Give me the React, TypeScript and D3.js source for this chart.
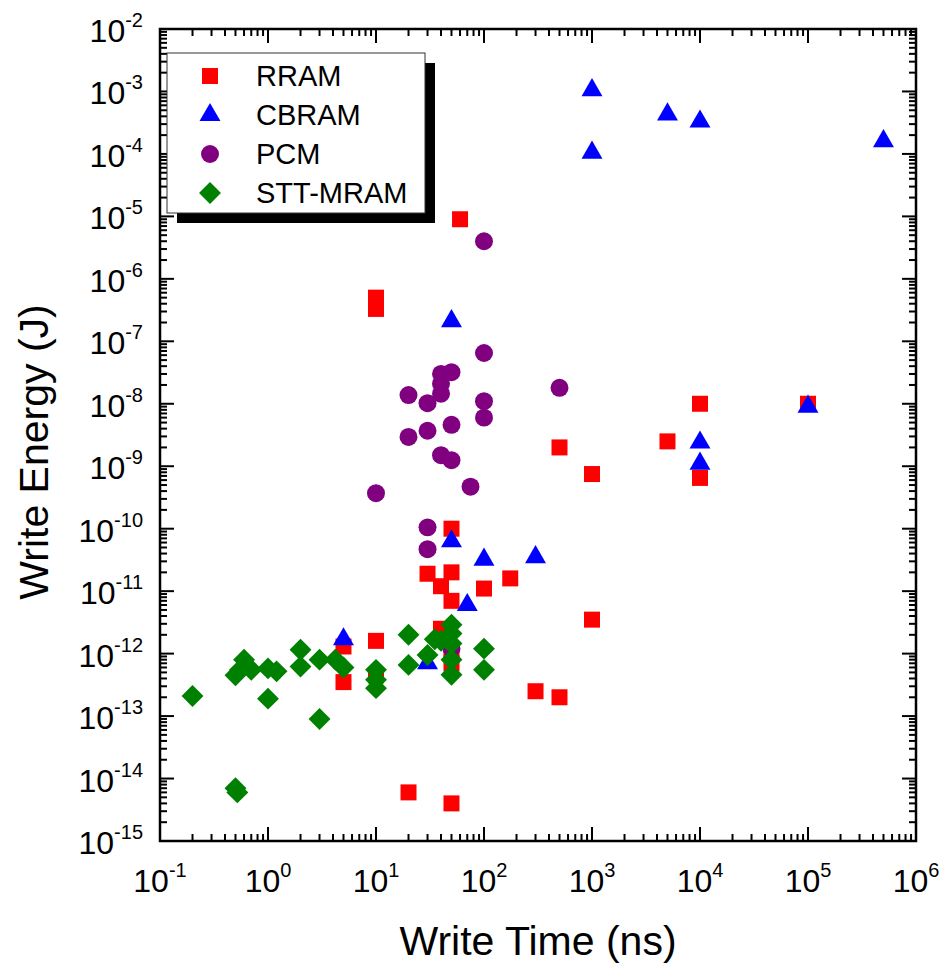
import React, { useEffect, useRef } from 'react';
import * as d3 from 'd3';

// series data: write time (ns) and write energy (J)
const rramTime = [60, 10, 10, 50, 30, 50, 40, 50, 100, 175, 500, 1000, 5000, 1e4, 1e4, 1e5, 1000, 300, 500, 5, 5, 10, 10, 40, 50, 50, 20, 50];
const rramEnergy = [9e-6, 5e-7, 3.3e-7, 1e-10, 1.9e-11, 2e-11, 1.2e-11, 7e-12, 1.1e-11, 1.6e-11, 2e-9, 7.5e-10, 2.5e-9, 1e-8, 6.5e-10, 1e-8, 3.5e-12, 2.5e-13, 2e-13, 1.3e-12, 3.5e-13, 1.6e-12, 4.5e-13, 2.5e-12, 1e-12, 7e-13, 6e-15, 4e-15];

const cbramTime = [1000, 1000, 5000, 1e4, 5e5, 1e5, 1e4, 1e4, 300, 100, 70, 50, 50, 5, 30];
const cbramEnergy = [1.05e-3, 1.05e-4, 4.3e-4, 3.3e-4, 1.6e-4, 9e-9, 2.4e-9, 1.1e-9, 3.5e-11, 3.2e-11, 6e-12, 6.3e-11, 2.1e-7, 1.7e-12, 7e-13];

const pcmTime = [100, 100, 50, 40, 40, 40, 30, 20, 100, 100, 50, 30, 20, 40, 50, 75, 10, 500, 30, 30, 50];
const pcmEnergy = [4e-6, 6.5e-8, 3.2e-8, 3e-8, 2.1e-8, 1.45e-8, 1.02e-8, 1.38e-8, 1.1e-8, 6e-9, 4.6e-9, 3.7e-9, 2.95e-9, 1.5e-9, 1.25e-9, 4.7e-10, 3.7e-10, 1.8e-8, 1.05e-10, 4.7e-11, 1.2e-12];

const sttTime = [0.2, 0.5, 0.55, 0.6, 0.7, 1, 1.2, 1, 2, 2, 3, 3, 4.2, 5, 10, 10, 10, 20, 20, 30, 35, 40, 50, 50, 50, 50, 50, 100, 100, 0.5, 0.52];
const sttEnergy = [2.1e-13, 4.5e-13, 5.5e-13, 8e-13, 5.5e-13, 5.8e-13, 5.2e-13, 1.9e-13, 1.15e-12, 6.2e-13, 8e-13, 9e-14, 8e-13, 6e-13, 5.5e-13, 3.8e-13, 2.8e-13, 2e-12, 6.6e-13, 9.5e-13, 1.7e-12, 1.6e-12, 2.9e-12, 2.1e-12, 1.45e-12, 8e-13, 4.6e-13, 1.2e-12, 5.5e-13, 7e-15, 6e-15];

const seriesNames = ['RRAM', 'CBRAM', 'PCM', 'STT-MRAM'];
const seriesColors = ['#ff0000', '#0000ff', '#800080', '#008000'];

const xDecades = [-1, 0, 1, 2, 3, 4, 5, 6];
const yDecades = [-15, -14, -13, -12, -11, -10, -9, -8, -7, -6, -5, -4, -3, -2];

const App = () => {
  const ref = useRef<SVGSVGElement>(null);

  useEffect(() => {
    const svg = d3.select(ref.current);
    svg.selectAll('*').remove();

    const left = 160, right = 916, top = 29, bottom = 841;
    const font = 'Liberation Sans, Arial, sans-serif';

    const x = d3.scaleLog().domain([1e-1, 1e6]).range([left, right]);
    const y = d3.scaleLog().domain([1e-15, 1e-2]).range([bottom, top]);

    const g = svg.append('g');

    // minor + major ticks, all four sides, pointing inward
    const xTicks: number[] = [];
    xDecades.forEach(d => {
      for (let k = 1; k <= 9; k++) {
        if (d === 6 && k > 1) break;
        xTicks.push(k * Math.pow(10, d));
      }
    });
    const yTicks: number[] = [];
    yDecades.forEach(d => {
      for (let k = 1; k <= 9; k++) {
        if (d === -2 && k > 1) break;
        yTicks.push(k * Math.pow(10, d));
      }
    });
    const isMajor = (v: number) => Math.abs(Math.log10(v) - Math.round(Math.log10(v))) < 1e-9;

    xTicks.forEach(v => {
      const len = isMajor(v) ? 14 : 7;
      const px = x(v);
      g.append('line').attr('x1', px).attr('x2', px).attr('y1', bottom).attr('y2', bottom - len)
        .attr('stroke', '#000').attr('stroke-width', 2);
      g.append('line').attr('x1', px).attr('x2', px).attr('y1', top).attr('y2', top + len)
        .attr('stroke', '#000').attr('stroke-width', 2);
    });
    yTicks.forEach(v => {
      const len = isMajor(v) ? 14 : 7;
      const py = y(v);
      g.append('line').attr('x1', left).attr('x2', left + len).attr('y1', py).attr('y2', py)
        .attr('stroke', '#000').attr('stroke-width', 2);
      g.append('line').attr('x1', right).attr('x2', right - len).attr('y1', py).attr('y2', py)
        .attr('stroke', '#000').attr('stroke-width', 2);
    });

    // frame
    g.append('rect').attr('x', left).attr('y', top).attr('width', right - left).attr('height', bottom - top)
      .attr('fill', 'none').attr('stroke', '#000').attr('stroke-width', 2.5);

    // tick labels
    xDecades.forEach(d => {
      const t = g.append('text').attr('x', x(Math.pow(10, d))).attr('y', bottom + 51)
        .attr('text-anchor', 'middle').attr('font-family', font).attr('font-size', 32);
      t.append('tspan').text('10');
      t.append('tspan').attr('font-size', 20).attr('dy', -15).text(String(d));
    });
    yDecades.forEach(d => {
      const t = g.append('text').attr('x', 143).attr('y', y(Math.pow(10, d)) + 13)
        .attr('text-anchor', 'end').attr('font-family', font).attr('font-size', 32);
      t.append('tspan').text('10');
      t.append('tspan').attr('font-size', 20).attr('dy', -15).text(String(d));
    });

    // axis titles
    g.append('text').attr('x', (left + right) / 2).attr('y', 955).attr('text-anchor', 'middle')
      .attr('font-family', font).attr('font-size', 41).text('Write Time (ns)');
    g.append('text').attr('transform', `translate(48, 452) rotate(-90)`)
      .attr('text-anchor', 'middle').attr('font-family', font).attr('font-size', 41).text('Write Energy (J)');

    // markers
    const symbols = [
      d3.symbol().type(d3.symbolSquare).size(256),
      d3.symbol().type(d3.symbolTriangle).size(190),
      d3.symbol().type(d3.symbolCircle).size(254),
      d3.symbol().type(d3.symbolSquare).size(240),
    ];
    const rotations = [0, 0, 0, 45];
    const series = [
      rramTime.map((t, i) => [t, rramEnergy[i]]),
      cbramTime.map((t, i) => [t, cbramEnergy[i]]),
      pcmTime.map((t, i) => [t, pcmEnergy[i]]),
      sttTime.map((t, i) => [t, sttEnergy[i]]),
    ];

    series.forEach((pts, si) => {
      g.append('g').selectAll('path').data(pts).enter().append('path')
        .attr('d', symbols[si]() as string)
        .attr('transform', d => `translate(${x(d[0])},${y(d[1])}) rotate(${rotations[si]})`)
        .attr('fill', seriesColors[si]);
    });

    // legend with drop shadow
    const lg = g.append('g');
    lg.append('rect').attr('x', 177).attr('y', 63).attr('width', 258).attr('height', 160).attr('fill', '#000');
    lg.append('rect').attr('x', 167).attr('y', 53).attr('width', 258).attr('height', 160)
      .attr('fill', '#fff').attr('stroke', '#333').attr('stroke-width', 1);
    const rowY = [76, 115, 154, 193];
    seriesNames.forEach((name, i) => {
      lg.append('path').attr('d', symbols[i]() as string)
        .attr('transform', `translate(210,${rowY[i]}) rotate(${rotations[i]})`)
        .attr('fill', seriesColors[i]);
      lg.append('text').attr('x', 256).attr('y', rowY[i] + 10).attr('font-family', font)
        .attr('font-size', 29).text(name);
    });
  }, []);

  return (
    <svg ref={ref} width={940} height={965} style={{ position: 'absolute', left: 0, top: 0, background: '#fff' }} />
  );
};

export default App;
